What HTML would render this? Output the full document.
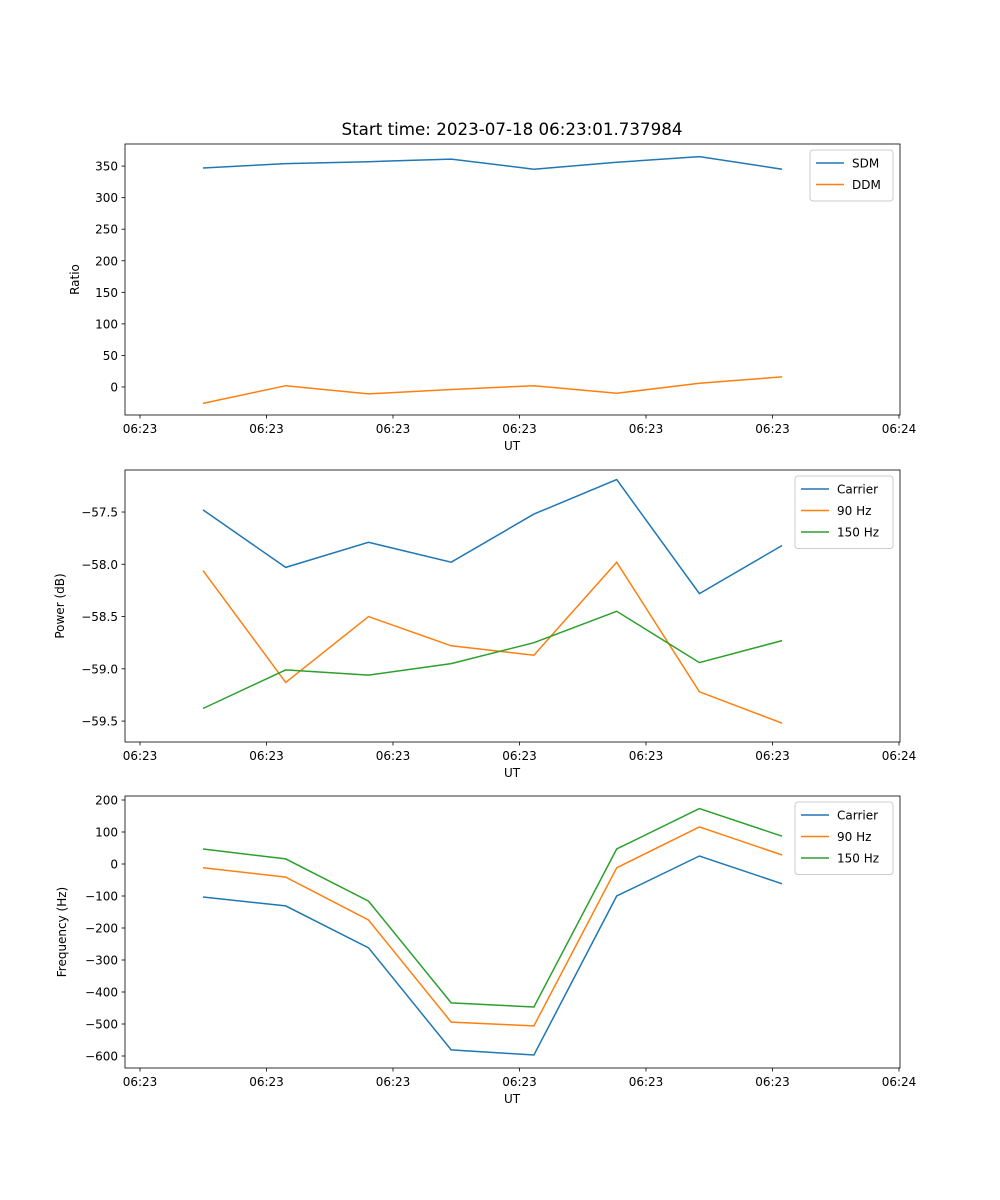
<!DOCTYPE html>
<html><head><meta charset="utf-8"><style>
html,body{margin:0;padding:0;background:#fff;}
svg{display:block;font-family:"DejaVu Sans","Liberation Sans",sans-serif;}
</style></head><body>
<svg id="fig" width="1000" height="1200" viewBox="0 0 1000 1200" xmlns="http://www.w3.org/2000/svg">
<rect width="1000" height="1200" fill="#fff"/>
<text x="512" y="135" font-size="16.7" text-anchor="middle">Start time: 2023-07-18 06:23:01.737984</text>
</svg>
<script>
const timeSec=[0.498,1.152,1.806,2.46,3.114,3.768,4.422,5.076];
const xTickVals=[0,1,2,3,4,5,6];
const xTickLabels=["06:23","06:23","06:23","06:23","06:23","06:23","06:24"];
const sdm=[347,354,357,361,345,356,365,345];
const ddm=[-26,2,-11,-4,2,-10,6,16];
const ratioTicks=[0,50,100,150,200,250,300,350];
const pCarrier=[-57.48,-58.03,-57.79,-57.98,-57.52,-57.19,-58.28,-57.82];
const p90=[-58.06,-59.13,-58.50,-58.78,-58.87,-57.98,-59.22,-59.52];
const p150=[-59.38,-59.01,-59.06,-58.95,-58.75,-58.45,-58.94,-58.73];
const powerTicks=[-59.5,-59.0,-58.5,-58.0,-57.5];
const fCarrier=[-103,-131,-262,-581,-597,-100,25,-62];
const f90=[-12,-41,-175,-494,-506,-12,116,28];
const f150=[47,16,-116,-434,-447,47,173,87];
const freqTicks=[-600,-500,-400,-300,-200,-100,0,100,200];

const NS="http://www.w3.org/2000/svg";
const svg=document.getElementById('fig');
const L=125,R=900;
const xs=v=>140+v*126.5;
function el(tag,attrs,parent){const e=document.createElementNS(NS,tag);for(const k in attrs)e.setAttribute(k,attrs[k]);(parent||svg).appendChild(e);return e;}
function panel(name,top,bot,ymin,ymax,yTicks,fmt,ylabel,series,legend){
  const g=el('g',{});
  
  
  const ys=v=>bot-(v-ymin)/(ymax-ymin)*(bot-top);
  series.forEach(s=>{
    const pts=s.vals.map((v,i)=>xs(timeSec[i]).toFixed(1)+','+ys(v).toFixed(1)).join(' ');
    const pl=el('polyline',{points:pts,fill:'none',stroke:s.color,'stroke-width':1.5},g);
    
    
  });
  const fr=el('rect',{x:L,y:top,width:R-L,height:bot-top,fill:'none',stroke:'#000','stroke-width':0.8},g);
  
  
  xTickVals.forEach((v,i)=>{
    const x=xs(v);
    el('line',{x1:x,x2:x,y1:bot,y2:bot+3.5,stroke:'#000','stroke-width':0.8},g);
    const t=el('text',{x:x,y:bot+18,'font-size':12,'text-anchor':'middle'},g);
    t.textContent=xTickLabels[i];
    
    
  });
  yTicks.forEach(v=>{
    const y=ys(v);
    el('line',{x1:L-3.5,x2:L,y1:y,y2:y,stroke:'#000','stroke-width':0.8},g);
    const t=el('text',{x:L-7,y:y+4.5,'font-size':12,'text-anchor':'end'},g);
    t.textContent=fmt(v);
    
    
  });
  const xl=el('text',{x:512,y:bot+35,'font-size':12,'text-anchor':'middle'},g);
  xl.textContent='UT';
  
  
  const yc=(top+bot)/2;
  const yl=el('text',{x:legend.ylx,y:yc,'font-size':12,'text-anchor':'middle',transform:'rotate(-90 '+legend.ylx+' '+yc+')'},g);
  yl.textContent=ylabel;
  
  
  const lg=el('g',{},g);
  
  
  const h=8+series.length*21.5;
  el('rect',{x:legend.x,y:top+6,width:893-legend.x,height:h,rx:3,fill:'#fff','fill-opacity':0.8,stroke:'#ccc'},lg);
  series.forEach((s,i)=>{
    const y=top+19+i*21.5;
    el('line',{x1:legend.x+6,x2:legend.x+34,y1:y,y2:y,stroke:s.color,'stroke-width':1.5},lg);
    const t=el('text',{x:legend.x+42,y:y+4.5,'font-size':12},lg);
    t.textContent=s.label;
    
    
  });
}
const B='#1f77b4',O='#ff7f0e',G='#2ca02c';
panel('ratio',144,415,-44.4,385,ratioTicks,v=>String(v),'Ratio',
  [{key:'sdm',label:'SDM',vals:sdm,color:B},{key:'ddm',label:'DDM',vals:ddm,color:O}],{x:810,ylx:79});
panel('power',470,742,-59.70,-57.098,powerTicks,v=>(v<0?'\u2212':'')+Math.abs(v).toFixed(1),'Power (dB)',
  [{key:'carrier',label:'Carrier',vals:pCarrier,color:B},{key:'90hz',label:'90 Hz',vals:p90,color:O},{key:'150hz',label:'150 Hz',vals:p150,color:G}],{x:795,ylx:64});
panel('frequency',796,1068,-637.5,212.5,freqTicks,v=>(v<0?'\u2212':'')+Math.abs(v),'Frequency (Hz)',
  [{key:'carrier',label:'Carrier',vals:fCarrier,color:B},{key:'90hz',label:'90 Hz',vals:f90,color:O},{key:'150hz',label:'150 Hz',vals:f150,color:G}],{x:795,ylx:66});
</script>
</body></html>
